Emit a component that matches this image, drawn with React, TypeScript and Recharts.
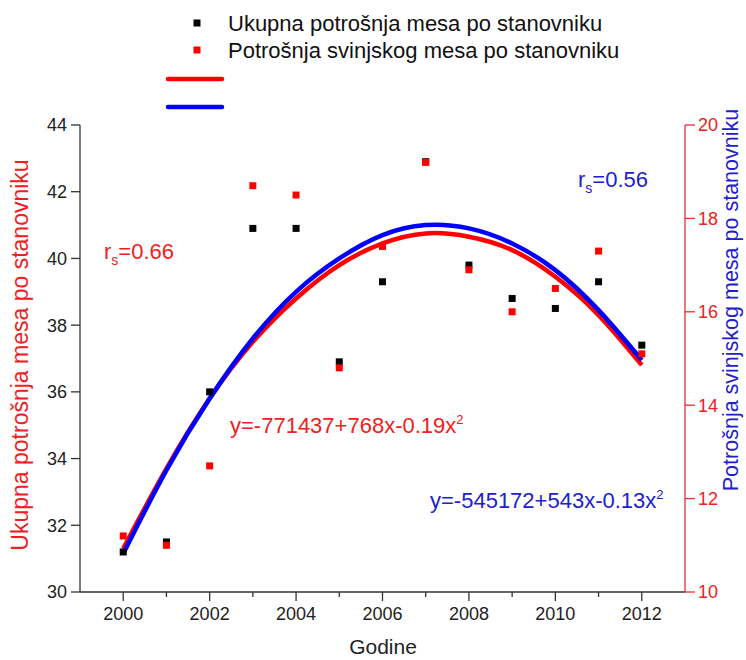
import React from "react";
import { ComposedChart, XAxis, YAxis, Scatter, Line } from "recharts";

const years = [2000, 2001, 2002, 2003, 2004, 2005, 2006, 2007, 2008, 2009, 2010, 2011, 2012];
const ukupna = [31.2, 31.5, 36.0, 40.9, 40.9, 36.9, 39.3, 42.9, 39.8, 38.8, 38.5, 39.3, 37.4];
const svinjsko = [11.2, 11.0, 12.7, 18.7, 18.5, 14.8, 17.4, 19.2, 16.9, 16.0, 16.5, 17.3, 15.1];
const fitRed = [31.3, 33.7, 35.8, 37.5, 38.8, 39.8, 40.45, 40.75, 40.65, 40.25, 39.45, 38.3, 36.8];
const fitBlue = [31.15, 33.65, 35.8, 37.6, 39.0, 40.0, 40.7, 41.0, 40.9, 40.45, 39.65, 38.45, 36.95];
const xTicks = years;
const leftTicks = [30, 32, 34, 36, 38, 40, 42, 44];
const rightTicks = [10, 12, 14, 16, 18, 20];

const legendLabels = ["Ukupna potrošnja mesa po stanovniku", "Potrošnja svinjskog mesa po stanovniku"];
const leftTitle = "Ukupna potrošnja mesa po stanovniku";
const rightTitle = "Potrošnja svinjskog mesa po stanovniku";
const xTitle = "Godine";

const data = years.map((y, i) => ({
  year: y,
  ukupna: ukupna[i],
  svinjsko: svinjsko[i],
  fitRed: fitRed[i],
  fitBlue: fitBlue[i],
}));

const FONT = "'Liberation Sans', Arial, sans-serif";
const RED = "#ff0000";
const RED_TXT = "#ee2020";
const BLUE = "#0000ff";
const BLUE_TXT = "#2020d0";
const AX = "#333333";

const XTick = (props: any) => {
  const { x, y, payload } = props;
  const major = payload.value % 2 === 0;
  return (
    <g>
      <line x1={x} x2={x} y1={y} y2={y + (major ? 9 : 5)} stroke={AX} strokeWidth={1.3} />
      {major && (
        <text x={x} y={y + 28} textAnchor="middle" fontSize={18} fill="#222" fontFamily={FONT}>
          {payload.value}
        </text>
      )}
    </g>
  );
};

const sq = (color: string) => (props: any) => (
  <rect x={props.cx - 3.5} y={props.cy - 3.5} width={7} height={7} fill={color} />
);

export default function App() {
  return (
    <div style={{ position: "absolute", left: 0, top: 0, width: 746, height: 660, background: "#fff" }}>
      <ComposedChart
        width={746}
        height={660}
        data={data}
        margin={{ top: 125, right: 0, bottom: 0, left: 0 }}
      >
        <XAxis
          dataKey="year"
          type="number"
          domain={[1999, 2013]}
          ticks={xTicks}
          interval={0}
          height={68}
          tickLine={false}
          tickSize={0}
          tickMargin={0}
          tick={<XTick />}
          stroke={AX}
          strokeWidth={1.3}
          allowDataOverflow
        />
        <YAxis
          yAxisId="left"
          orientation="left"
          domain={[30, 44]}
          ticks={leftTicks}
          interval={0}
          width={80}
          tickSize={9}
          tickMargin={4}
          stroke={AX}
          strokeWidth={1.3}
          tick={{ fontSize: 18, fill: "#222", fontFamily: FONT }}
          allowDataOverflow
        />
        <YAxis
          yAxisId="right"
          orientation="right"
          domain={[10, 20]}
          ticks={rightTicks}
          interval={0}
          width={61}
          tickSize={10}
          tickMargin={3}
          stroke="#e03030"
          strokeWidth={1.3}
          tick={{ fontSize: 18, fill: RED_TXT, fontFamily: FONT }}
          allowDataOverflow
        />
        <Scatter yAxisId="left" dataKey="ukupna" fill="#000" shape={sq("#000")} isAnimationActive={false} />
        <Scatter yAxisId="right" dataKey="svinjsko" fill={RED} shape={sq(RED)} isAnimationActive={false} />
        <Line yAxisId="left" dataKey="fitRed" type="natural" stroke={RED} strokeWidth={4.5} dot={false} isAnimationActive={false} />
        <Line yAxisId="left" dataKey="fitBlue" type="natural" stroke={BLUE} strokeWidth={4.5} dot={false} isAnimationActive={false} />
      </ComposedChart>
      <svg
        width={746}
        height={660}
        style={{ position: "absolute", left: 0, top: 0, pointerEvents: "none" }}
        fontFamily={FONT}
      >
        {/* legend */}
        <rect x={193.5} y={19.5} width={7} height={7} fill="#000" />
        <text x={228} y={31} fontSize={22} fill="#111">{legendLabels[0]}</text>
        <rect x={193.5} y={46.5} width={7} height={7} fill={RED} />
        <text x={228} y={58} fontSize={22} fill="#111">{legendLabels[1]}</text>
        <line x1={168} x2={222} y1={79} y2={79} stroke={RED} strokeWidth={4.5} strokeLinecap="round" />
        <line x1={168} x2={222} y1={107} y2={107} stroke={BLUE} strokeWidth={4.5} strokeLinecap="round" />
        {/* axis titles */}
        <text
          x={0}
          y={0}
          transform="translate(28,355) rotate(-90)"
          textAnchor="middle"
          fontSize={23}
          fill={RED_TXT}
        >
          {leftTitle}
        </text>
        <text
          x={0}
          y={0}
          transform="translate(738,300) rotate(-90)"
          textAnchor="middle"
          fontSize={21.5}
          fill={BLUE_TXT}
        >
          {rightTitle}
        </text>
        <text x={383} y={654} textAnchor="middle" fontSize={21} fill="#222">{xTitle}</text>
        {/* annotations */}
        <text x={104} y={259} fontSize={22} fill={RED_TXT}>
          r<tspan dy={6} fontSize={14}>s</tspan><tspan dy={-6}>=0.66</tspan>
        </text>
        <text x={578} y={187} fontSize={22} fill={BLUE_TXT}>
          r<tspan dy={6} fontSize={14}>s</tspan><tspan dy={-6}>=0.56</tspan>
        </text>
        <text x={230} y={433} fontSize={22} fill={RED_TXT}>
          y=-771437+768x-0.19x<tspan dy={-9} fontSize={13}>2</tspan>
        </text>
        <text x={430} y={508} fontSize={22} fill={BLUE_TXT}>
          y=-545172+543x-0.13x<tspan dy={-9} fontSize={13}>2</tspan>
        </text>
      </svg>
    </div>
  );
}
